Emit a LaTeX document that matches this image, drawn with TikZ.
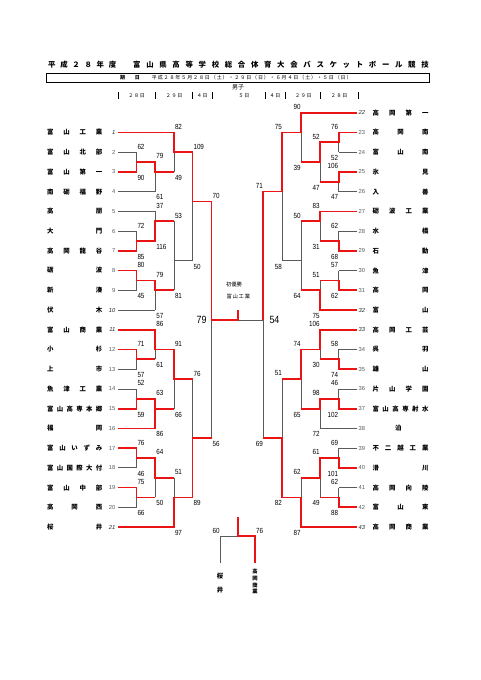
\documentclass[tikz,border=0pt]{standalone}
\usepackage{fontspec}
\setmainfont{Liberation Sans}
\newfontfamily\jp{Noto Sans CJK JP}
\newfontfamily\numf[FakeStretch=0.85]{Liberation Sans}
\definecolor{gl}{RGB}{90,90,90}
\definecolor{rd}{RGB}{235,20,20}
\newcount\scn
\newcommand\Lt[3]{\global\advance\scn by 1 \node[scl] (s\the\scn) at ({#1+0.8},{ry(#2)-5.6}) {#3};}
\newcommand\Lb[3]{\global\advance\scn by 1 \node[scl] (s\the\scn) at ({#1+0.8},{ry(#2)+5.8}) {#3};}
\newcommand\Rt[3]{\global\advance\scn by 1 \node[scr] (s\the\scn) at ({#1-0.3},{ry(#2)-5.6}) {#3};}
\newcommand\Rb[3]{\global\advance\scn by 1 \node[scr] (s\the\scn) at ({#1-0.3},{ry(#2)+5.8}) {#3};}
\newcommand\gv[3]{\draw[gline] (#1,{ry(#2)}) -- (#1,{ry(#3)});}
\newcommand\gh[3]{\draw[gline] (#1,{ry(#3)}) -- (#2,{ry(#3)});}
\newcommand\tL[3]{\node[tnm,anchor=west] (L#1) at (47,{ry(#1)}) {\makebox[55pt]{#2}};
  \node[#3,anchor=east] (nl#1) at (115.5,{ry(#1)}) {#1};}
\newcommand\tR[3]{\node[tnm,anchor=west] (R#1) at (372.3,{ry(#1-22)}) {\makebox[56pt]{#2}};
  \node[#3,anchor=west] (nr#1) at (358.5,{ry(#1-22)}) {#1};}
\def\La{118}\def\xa{136.5}\def\xb{155.3}\def\xc{174}\def\xd{192.5}\def\xe{211.5}
\def\Ra{357}\def\Xa{338.7}\def\Xb{320}\def\Xc{301}\def\Xd{282.3}\def\Xe{263.3}
\begin{document}
\begin{tikzpicture}[x=1pt,y=-1pt,
  declare function={ry(\r)=112.7+\r*19.73;},
  gline/.style={draw=gl, line width=0.7pt},
  rline/.style={draw=rd, line width=1.7pt, line join=miter},
  scl/.style={anchor=west, inner sep=0pt, font=\numf\fontsize{7.4}{8}\selectfont},
  scr/.style={anchor=east, inner sep=0pt, font=\numf\fontsize{7.4}{8}\selectfont},
  tnm/.style={inner sep=0pt, font=\jp\bfseries\fontsize{6.4}{7}\selectfont},
  tno/.style={inner sep=0pt, text=gl, font=\fontsize{5.8}{7}\selectfont},
  tnoi/.style={inner sep=0pt, text=black!85, font=\itshape\fontsize{5.8}{7}\selectfont},
  hd/.style={inner sep=0pt, font=\jp\fontsize{5}{6}\selectfont\addfontfeature{LetterSpace=15}},
  big/.style={inner sep=0pt, font=\numf\fontsize{10.5}{11}\selectfont}]
\fill[white] (0,0) rectangle (481,680);
\useasboundingbox (0,0) rectangle (481,680);
% ---------- header ----------
\node[anchor=west, inner sep=0pt, font=\jp\bfseries\fontsize{7.4}{8}\selectfont] (ti1) at (48,65)
 {\makebox[68pt]{平\hfill 成\hfill ２\hfill ８\hfill 年\hfill 度}};
\node[anchor=west, inner sep=0pt, font=\jp\bfseries\fontsize{7.4}{8}\selectfont] (ti2) at (133,65)
 {\makebox[295.5pt]{富\hfill 山\hfill 県\hfill 高\hfill 等\hfill 学\hfill 校\hfill 総\hfill 合\hfill 体\hfill 育\hfill 大\hfill 会\hfill バ\hfill ス\hfill ケ\hfill ッ\hfill ト\hfill ボ\hfill ー\hfill ル\hfill 競\hfill 技}};
\node[draw=black, line width=0.8pt, minimum width=383pt, minimum height=9pt, inner sep=0pt] (box) at (237.5,77.8) {};
\node[inner sep=0pt, font=\jp\bfseries\fontsize{5}{6}\selectfont] (ki) at (122.7,77.8) {期};
\node[inner sep=0pt, font=\jp\bfseries\fontsize{5}{6}\selectfont] (hi) at (137.3,77.8) {日};
\node[anchor=west, inner sep=0pt, font=\jp\fontsize{5}{6}\selectfont\addfontfeature{LetterSpace=18}] (date) at (151.7,77.8)
 {平成２８年５月２８日（土）・２９日（日）・６月４日（土）・５日（日）};
\node[inner sep=0pt, font=\jp\fontsize{6}{7}\selectfont] (sex) at (238,87.7) {男子};
\foreach \x in {118.3,155,192.7,212.5,265,285,320,358.3} \draw[black, line width=0.5pt] (\x,92) -- (\x,99);
\node[hd] (h1) at (136.7,95.7) {２８日};
\node[hd] (h2) at (174,95.7) {２９日};
\node[hd] (h3) at (202.3,95.7) {４日};
\node[hd] (h4) at (244,95.7) {５日};
\node[hd] (h5) at (275,95.7) {４日};
\node[hd] (h6) at (303.3,95.7) {２９日};
\node[hd] (h7) at (339,95.7) {２８日};
% ---------- teams ----------
\tL{1}{富\hfill 山\hfill 工\hfill 業}{tnoi}
\tL{2}{富\hfill 山\hfill 北\hfill 部}{tno}
\tL{3}{富\hfill 山\hfill 第\hfill 一}{tno}
\tL{4}{南\hfill 砺\hfill 福\hfill 野}{tno}
\tL{5}{高\hfill 朋}{tno}
\tL{6}{大\hfill 門}{tno}
\tL{7}{高\hfill 岡\hfill 龍\hfill 谷}{tno}
\tL{8}{砺\hfill 波}{tno}
\tL{9}{新\hfill 湊}{tno}
\tL{10}{伏\hfill 木}{tnoi}
\tL{11}{富\hfill 山\hfill 商\hfill 業}{tnoi}
\tL{12}{小\hfill 杉}{tno}
\tL{13}{上\hfill 市}{tno}
\tL{14}{魚\hfill 津\hfill 工\hfill 業}{tno}
\tL{15}{富\hfill 山\hfill 高\hfill 専\hfill 本\hfill 郷}{tno}
\tL{16}{福\hfill 岡}{tno}
\tL{17}{富\hfill 山\hfill い\hfill ず\hfill み}{tno}
\tL{18}{富\hfill 山\hfill 国\hfill 際\hfill 大\hfill 付}{tno}
\tL{19}{富\hfill 山\hfill 中\hfill 部}{tno}
\tL{20}{高\hfill 岡\hfill 西}{tno}
\tL{21}{桜\hfill 井}{tnoi}
\tR{22}{高\hfill 岡\hfill 第\hfill 一}{tnoi}
\tR{23}{高\hfill 岡\hfill 南}{tno}
\tR{24}{富\hfill 山\hfill 南}{tno}
\tR{25}{氷\hfill 見}{tno}
\tR{26}{入\hfill 善}{tno}
\tR{27}{砺\hfill 波\hfill 工\hfill 業}{tno}
\tR{28}{水\hfill 橋}{tno}
\tR{29}{石\hfill 動}{tno}
\tR{30}{魚\hfill 津}{tno}
\tR{31}{高\hfill 岡}{tno}
\tR{32}{富\hfill 山}{tnoi}
\tR{33}{高\hfill 岡\hfill 工\hfill 芸}{tnoi}
\tR{34}{呉\hfill 羽}{tno}
\tR{35}{雄\hfill 山}{tno}
\tR{36}{片\hfill 山\hfill 学\hfill 園}{tno}
\tR{37}{富\hfill 山\hfill 高\hfill 専\hfill 射\hfill 水}{tno}
\node[tnm] (R38) at (398.3,{ry(16)}) {泊};
\node[tno,anchor=west] (nr38) at (358.5,{ry(16)}) {38};
\tR{39}{不\hfill 二\hfill 越\hfill 工\hfill 業}{tno}
\tR{40}{滑\hfill 川}{tno}
\tR{41}{高\hfill 岡\hfill 向\hfill 陵}{tno}
\tR{42}{富\hfill 山\hfill 東}{tno}
\tR{43}{高\hfill 岡\hfill 商\hfill 業}{tnoi}
% ---------- gray lines, left ----------
\gh{\La}{\xa}{2}\gh{\La}{\xb}{4}\gh{\La}{\xb}{5}\gh{\La}{\xa}{6}\gh{\La}{\xa}{9}
\gh{\La}{\xb}{10}\gh{\La}{\xa}{13}\gh{\La}{\xa}{14}\gh{\La}{\xa}{18}\gh{\La}{\xa}{20}
\gv{\xa}{2}{3}\gv{\xa}{6}{7}\gv{\xa}{8}{9}\gv{\xa}{12}{13}\gv{\xa}{14}{15}\gv{\xa}{17}{18}\gv{\xa}{19}{20}
\gv{\xb}{2.5}{4}\gv{\xb}{5}{6.5}\gv{\xb}{8.5}{10}\gv{\xb}{11}{12.5}\gv{\xb}{14.5}{16}\gv{\xb}{17.5}{19.5}
\gv{\xc}{1}{3}\gv{\xc}{5.5}{9}\gv{\xc}{12}{15}\gv{\xc}{18.5}{21}
\gv{\xd}{2}{7.5}\gv{\xd}{13.5}{19.5}
\gv{\xe}{4.5}{16.5}
\gh{\xc}{\xd}{7.5}
% ---------- gray lines, right ----------
\gh{\Ra}{\Xa}{2}\gh{\Ra}{\Xa}{4}\gh{\Ra}{\Xa}{6}\gh{\Ra}{\Xa}{8}\gh{\Ra}{\Xa}{12}
\gh{\Ra}{\Xa}{14}\gh{\Ra}{\Xb}{16}\gh{\Ra}{\Xa}{17}\gh{\Ra}{\Xa}{19}
\gv{\Xa}{1}{2}\gv{\Xa}{3}{4}\gv{\Xa}{6}{7}\gv{\Xa}{8}{9}\gv{\Xa}{12}{13}\gv{\Xa}{14}{15}\gv{\Xa}{17}{18}\gv{\Xa}{19}{20}
\gv{\Xb}{1.5}{3.5}\gv{\Xb}{5}{6.5}\gv{\Xb}{8.5}{10}\gv{\Xb}{11}{12.5}\gv{\Xb}{14.5}{16}\gv{\Xb}{17.5}{19.5}
\gv{\Xc}{0}{2.5}\gv{\Xc}{5.5}{9}\gv{\Xc}{12}{15}\gv{\Xc}{18.5}{21}
\gv{\Xd}{1}{7.5}\gv{\Xd}{13.5}{19.5}
\gv{\Xe}{4}{16.5}
\gh{\Xc}{\Xd}{7.5}
\gh{238}{\Xe}{10.5}
% ---------- red lines, left ----------
\draw[rline] (\La,{ry(1)}) -| (\xc,{ry(2)}) -| (\xd,{ry(4.5)}) -| (\xe,{ry(10.5)}) -- (238,{ry(10.5)});
\draw[rline] (238,{ry(10.5)}) -- (238,310);
\draw[rline] (\La,{ry(3)}) -| (\xa,{ry(2.5)}) -| (\xb,{ry(3)}) -- (\xc,{ry(3)});
\draw[rline] (\La,{ry(7)}) -| (\xa,{ry(6.5)}) -| (\xb,{ry(5.5)}) -- (\xc,{ry(5.5)});
\draw[rline] (\La,{ry(8)}) -| (\xa,{ry(8.5)}) -| (\xb,{ry(9)}) -- (\xc,{ry(9)});
\draw[rline] (\La,{ry(11)}) -| (\xb,{ry(12)}) -| (\xc,{ry(13.5)}) -- (\xd,{ry(13.5)});
\draw[rline] (\La,{ry(12)}) -| (\xa,{ry(12.5)}) -- (\xb,{ry(12.5)});
\draw[rline] (\La,{ry(15)}) -| (\xa,{ry(14.5)}) -| (\xb,{ry(15)});
\draw[rline] (\La,{ry(16)}) -| (\xb,{ry(15)}) -- (\xc,{ry(15)});
\draw[rline] (\La,{ry(17)}) -| (\xa,{ry(17.5)}) -| (\xb,{ry(18.5)}) -- (\xc,{ry(18.5)});
\draw[rline] (\La,{ry(19)}) -| (\xa,{ry(19.5)}) -- (\xb,{ry(19.5)});
\draw[rline] (\La,{ry(21)}) -| (\xc,{ry(19.5)}) -| (\xd,{ry(16.5)}) -- (\xe,{ry(16.5)});
% ---------- red lines, right ----------
\draw[rline] (\Ra,{ry(0)}) -| (\Xc,{ry(1)}) -| (\Xd,{ry(4)}) -| (\Xe,{ry(10.5)});
\draw[rline] (\Ra,{ry(1)}) -| (\Xa,{ry(1.5)}) -| (\Xb,{ry(2.5)}) -- (\Xc,{ry(2.5)});
\draw[rline] (\Ra,{ry(3)}) -| (\Xa,{ry(3.5)}) -- (\Xb,{ry(3.5)});
\draw[rline] (\Ra,{ry(5)}) -| (\Xb,{ry(5.5)}) -- (\Xc,{ry(5.5)});
\draw[rline] (\Ra,{ry(7)}) -| (\Xa,{ry(6.5)}) -- (\Xb,{ry(6.5)});
\draw[rline] (\Ra,{ry(9)}) -| (\Xa,{ry(8.5)}) -- (\Xb,{ry(8.5)});
\draw[rline] (\Ra,{ry(10)}) -| (\Xb,{ry(9)}) -- (\Xc,{ry(9)});
\draw[rline] (\Ra,{ry(11)}) -| (\Xb,{ry(12)}) -| (\Xc,{ry(13.5)}) -- (\Xd,{ry(13.5)});
\draw[rline] (\Ra,{ry(13)}) -| (\Xa,{ry(12.5)}) -- (\Xb,{ry(12.5)});
\draw[rline] (\Ra,{ry(15)}) -| (\Xa,{ry(14.5)}) -| (\Xb,{ry(15)}) -- (\Xc,{ry(15)});
\draw[rline] (\Ra,{ry(18)}) -| (\Xa,{ry(17.5)}) -| (\Xb,{ry(18.5)}) -- (\Xc,{ry(18.5)});
\draw[rline] (\Ra,{ry(20)}) -| (\Xa,{ry(19.5)}) -- (\Xb,{ry(19.5)});
\draw[rline] (\Ra,{ry(21)}) -| (\Xc,{ry(19.5)}) -| (\Xd,{ry(16.5)}) -- (\Xe,{ry(16.5)});
% ---------- scores, left ----------
\Lt{\xa}{2}{62}\Lb{\xa}{3}{90}\Lt{\xa}{6}{72}\Lb{\xa}{7}{85}\Lt{\xa}{8}{80}\Lb{\xa}{9}{45}
\Lt{\xa}{12}{71}\Lb{\xa}{13}{57}\Lt{\xa}{14}{52}\Lb{\xa}{15}{59}\Lt{\xa}{17}{76}\Lb{\xa}{18}{46}
\Lt{\xa}{19}{75}\Lb{\xa}{20}{66}
\Lt{\xb}{2.5}{79}\Lb{\xb}{4}{61}\Lt{\xb}{5}{37}\Lb{\xb}{6.5}{116}\Lt{\xb}{8.5}{79}\Lb{\xb}{10}{57}
\Lt{\xb}{11}{86}\Lb{\xb}{12.5}{61}\Lt{\xb}{14.5}{63}\Lb{\xb}{16}{86}\Lt{\xb}{17.5}{64}\Lb{\xb}{19.5}{50}
\Lt{\xc}{1}{82}\Lb{\xc}{3}{49}\Lt{\xc}{5.5}{53}\Lb{\xc}{9}{81}\Lt{\xc}{12}{91}\Lb{\xc}{15}{66}
\Lt{\xc}{18.5}{51}\Lb{\xc}{21}{97}
\Lt{\xd}{2}{109}\Lb{\xd}{7.5}{50}\Lt{\xd}{13.5}{76}\Lb{\xd}{19.5}{89}
\Lt{\xe}{4.5}{70}\Lb{\xe}{16.5}{56}
% ---------- scores, right ----------
\Rt{\Xa}{1}{76}\Rb{\Xa}{2}{52}\Rt{\Xa}{3}{106}\Rb{\Xa}{4}{47}\Rt{\Xa}{6}{62}\Rb{\Xa}{7}{68}
\Rt{\Xa}{8}{57}\Rb{\Xa}{9}{62}\Rt{\Xa}{12}{58}\Rb{\Xa}{13}{74}\Rt{\Xa}{14}{46}\Rb{\Xa}{15}{102}
\Rt{\Xa}{17}{69}\Rb{\Xa}{18}{101}\Rt{\Xa}{19}{62}\Rb{\Xa}{20}{88}
\Rt{\Xb}{1.5}{52}\Rb{\Xb}{3.5}{47}\Rt{\Xb}{5}{83}\Rb{\Xb}{6.5}{31}\Rt{\Xb}{8.5}{51}\Rb{\Xb}{10}{75}
\Rt{\Xb}{11}{106}\Rb{\Xb}{12.5}{30}\Rt{\Xb}{14.5}{98}\Rb{\Xb}{16}{72}\Rt{\Xb}{17.5}{61}\Rb{\Xb}{19.5}{49}
\Rt{\Xc}{0}{90}\Rb{\Xc}{2.5}{39}\Rt{\Xc}{5.5}{50}\Rb{\Xc}{9}{64}\Rt{\Xc}{12}{74}\Rb{\Xc}{15}{65}
\Rt{\Xc}{18.5}{62}\Rb{\Xc}{21}{87}
\Rt{\Xd}{1}{75}\Rb{\Xd}{7.5}{58}\Rt{\Xd}{13.5}{51}\Rb{\Xd}{19.5}{82}
\Rt{\Xe}{4}{71}\Rb{\Xe}{16.5}{69}
% ---------- final ----------
\node[big, anchor=east] (f79) at (206.7,{ry(10.5)}) {79};
\node[big, anchor=west] (f54) at (269.3,{ry(10.5)}) {54};
\node[inner sep=0pt, font=\jp\fontsize{5.3}{6}\selectfont] (cw1) at (234,284) {初優勝};
\node[inner sep=0pt, font=\jp\fontsize{5.3}{6}\selectfont\addfontfeature{LetterSpace=15}] (cw2) at (238.3,296.5) {富山工業};
% ---------- bottom match ----------
\draw[gline] (238,536) -- (220,536) -- (220,563.3);
\draw[rline] (238,516.7) -- (238,536) -| (255,563.3);
\node[scr] (b60) at (219.7,530.5) {60};
\node[scl] (b76) at (255.8,530.5) {76};
\node[tnm] (bs1) at (220,576) {桜};
\node[tnm] (bs2) at (220,590) {井};
\node[tnm, font=\jp\bfseries\fontsize{5.3}{6}\selectfont] (bt1) at (255,571.7) {高};
\node[tnm, font=\jp\bfseries\fontsize{5.3}{6}\selectfont] (bt2) at (255,578.3) {岡};
\node[tnm, font=\jp\bfseries\fontsize{5.3}{6}\selectfont] (bt3) at (255,585) {商};
\node[tnm, font=\jp\bfseries\fontsize{5.3}{6}\selectfont] (bt4) at (255,591.7) {業};
\end{tikzpicture}
\end{document}
